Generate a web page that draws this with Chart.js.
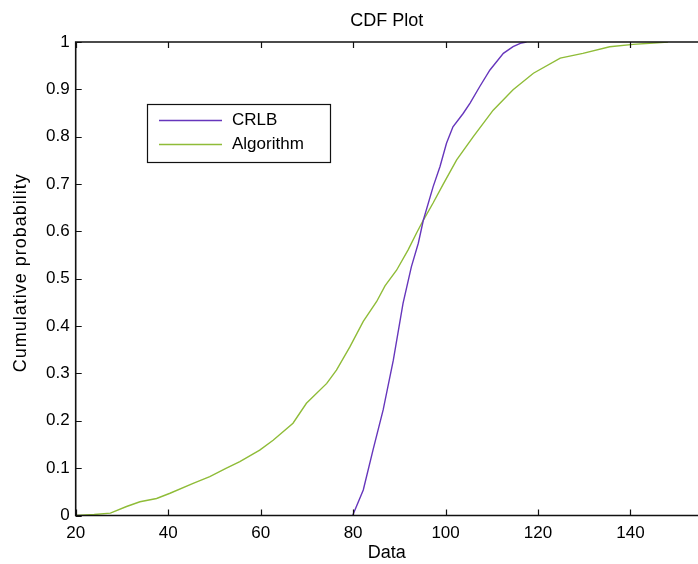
<!DOCTYPE html>
<html>
<head>
<meta charset="utf-8">
<script src="https://cdn.jsdelivr.net/npm/chart.js@4.4.0/dist/chart.umd.min.js"></script>
<style>
html, body { margin: 0; padding: 0; background: #fff; }
</style>
</head>
<body>
<canvas id="cdfCanvas" width="698" height="564"></canvas>
<script>
// values
var crlbX = [79.9, 82.2, 84.3, 86.5, 88.7, 90.8, 92.6, 94.1, 95.2, 97.3, 98.8, 100.2, 101.6, 103.8, 105.3, 107.4, 109.6, 112.5, 114.6, 116.4, 117.5];
var crlbY = [0, 0.054, 0.138, 0.223, 0.328, 0.448, 0.525, 0.575, 0.624, 0.694, 0.737, 0.786, 0.821, 0.849, 0.871, 0.906, 0.941, 0.976, 0.99, 0.998, 1.0];

var algX = [20, 24, 27.5, 31, 33.9, 37.5, 40.4, 45.4, 49.0, 52.6, 55.5, 59.8, 62.7, 67.0, 69.9, 74.3, 76.4, 79.3, 82.2, 85.1, 86.9, 89.4, 91.9, 93.7, 95.2, 97.3, 99.5, 102.4, 106.0, 110.3, 114.6, 119.0, 124.8, 129.7, 135.5, 140.6, 145, 148.1];
var algY = [0, 0.002, 0.005, 0.019, 0.029, 0.036, 0.047, 0.068, 0.082, 0.10, 0.114, 0.138, 0.159, 0.195, 0.237, 0.279, 0.307, 0.356, 0.41, 0.452, 0.485, 0.518, 0.561, 0.596, 0.624, 0.66, 0.70, 0.751, 0.80, 0.856, 0.899, 0.934, 0.966, 0.976, 0.99, 0.995, 0.998, 1.0];

var seriesNames = ["CRLB", "Algorithm"];
var xTicks = [20, 40, 60, 80, 100, 120, 140];
var yTicks = [0, 0.1, 0.2, 0.3, 0.4, 0.5, 0.6, 0.7, 0.8, 0.9, 1];
var yTickLabels = ["0", "0.1", "0.2", "0.3", "0.4", "0.5", "0.6", "0.7", "0.8", "0.9", "1"];

var titleText = "CDF Plot";
var xTitle = "Data";
var yTitle = "Cumulative probability";

var fontFamily = "'Liberation Sans', Arial, sans-serif";

function toPoints(xs, ys){
	var pts = [];
	for (var i = 0; i < xs.length; i++) { pts.push({x: xs[i], y: ys[i]}); }
	return pts;
}

// frame, inward ticks, titles and the boxed legend, matlab style
var matlabAxes = {
	id: "matlabAxes",
	afterDraw: function(chart){
		var ctx = chart.ctx;
		var a = chart.chartArea;
		var xs = chart.scales.x, ys = chart.scales.y;
		ctx.save();
		ctx.strokeStyle = "#111";
		ctx.lineWidth = 1.6;
		ctx.beginPath();
		ctx.moveTo(a.right, a.top);
		ctx.lineTo(a.left, a.top);
		ctx.lineTo(a.left, a.bottom);
		ctx.lineTo(a.right, a.bottom);
		ctx.stroke();

		ctx.lineWidth = 1.2;
		ctx.beginPath();
		xTicks.forEach(function(v){
			var px = Math.round(xs.getPixelForValue(v)) + 0.5;
			ctx.moveTo(px, a.bottom); ctx.lineTo(px, a.bottom - 6);
			ctx.moveTo(px, a.top); ctx.lineTo(px, a.top + 6);
		});
		yTicks.forEach(function(v){
			var py = Math.round(ys.getPixelForValue(v)) + 0.5;
			ctx.moveTo(a.left, py); ctx.lineTo(a.left + 6, py);
		});
		ctx.stroke();

		var cx = (a.left + a.right) / 2;
		ctx.fillStyle = "#000";
		ctx.font = "18px " + fontFamily;
		ctx.textAlign = "center";
		ctx.textBaseline = "middle";
		ctx.fillText(titleText, cx, 21);
		ctx.fillText(xTitle, cx, 553);
		ctx.save();
		ctx.translate(21, (a.top + a.bottom) / 2 - 6);
		ctx.rotate(-Math.PI / 2);
		ctx.letterSpacing = "1px";
		ctx.fillText(yTitle, 0, 0);
		ctx.restore();

		// legend box
		ctx.fillStyle = "#fff";
		ctx.fillRect(147, 104, 183, 58);
		ctx.strokeStyle = "#111";
		ctx.lineWidth = 1.2;
		ctx.strokeRect(147.5, 104.5, 183, 58);
		ctx.font = "17px " + fontFamily;
		var rows = [120, 144];
		chart.data.datasets.forEach(function(ds, i){
			ctx.strokeStyle = ds.borderColor;
			ctx.lineWidth = 1.5;
			ctx.beginPath();
			ctx.moveTo(159, rows[i] + 0.5);
			ctx.lineTo(222, rows[i] + 0.5);
			ctx.stroke();
			ctx.fillStyle = "#000";
			ctx.textAlign = "left";
			ctx.fillText(ds.label, 232, rows[i]);
		});
		ctx.restore();
	}
};

var ctx = document.getElementById("cdfCanvas");
var cdfChart = new Chart(ctx, {
	type: "scatter",
	data: {
		datasets: [
			{
				label: seriesNames[0],
				data: toPoints(crlbX, crlbY),
				showLine: true,
				borderColor: "#6636bc",
				borderWidth: 1.4,
				pointRadius: 0,
				tension: 0
			},
			{
				label: seriesNames[1],
				data: toPoints(algX, algY),
				showLine: true,
				borderColor: "#8fbc38",
				borderWidth: 1.4,
				pointRadius: 0,
				tension: 0
			}
		]
	},
	options: {
		responsive: false,
		animation: false,
		layout: { padding: { top: 42, right: 0, left: 0, bottom: 0 } },
		plugins: {
			legend: { display: false },
			title: { display: false },
			tooltip: { enabled: false }
		},
		scales: {
			x: {
				type: "linear",
				min: 20,
				max: 154.6,
				afterBuildTicks: function(s){ s.ticks = xTicks.map(function(v){ return {value: v}; }); },
				afterFit: function(s){ s.height = 48.5; },
				grid: { display: false, drawTicks: false },
				border: { display: false },
				ticks: {
					color: "#000",
					padding: 8,
					maxRotation: 0,
					autoSkip: false,
					font: { family: fontFamily, size: 17 }
				}
			},
			y: {
				min: 0,
				max: 1,
				afterBuildTicks: function(s){ s.ticks = yTicks.map(function(v){ return {value: v}; }); },
				afterFit: function(s){ s.width = 75.7; },
				grid: { display: false, drawTicks: false },
				border: { display: false },
				ticks: {
					color: "#000",
					padding: 6,
					autoSkip: false,
					font: { family: fontFamily, size: 17 },
					callback: function(v, i){ return yTickLabels[i]; }
				}
			}
		}
	},
	plugins: [matlabAxes]
});
</script>
</body>
</html>
